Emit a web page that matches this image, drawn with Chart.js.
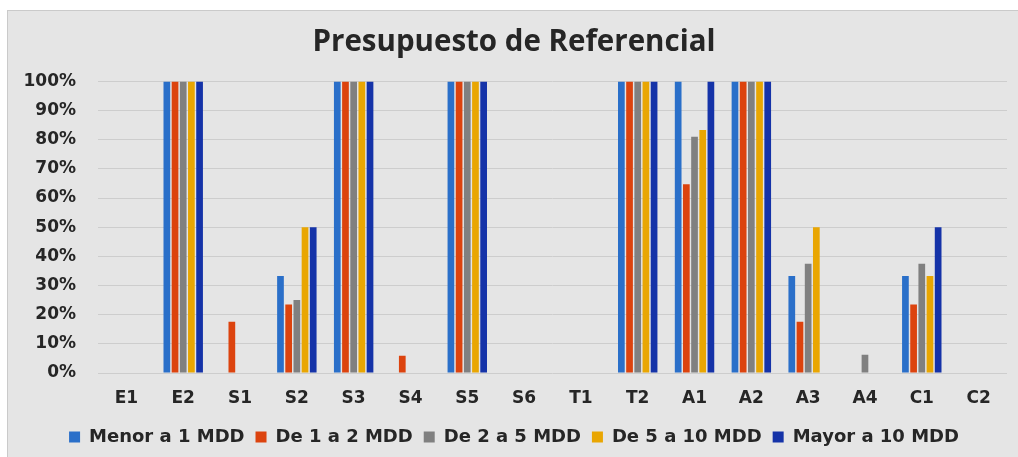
<!DOCTYPE html>
<html>
<head>
<meta charset="utf-8">
<script src="https://cdn.jsdelivr.net/npm/chart.js@4.4.0/dist/chart.umd.min.js"></script>
<style>
  html, body { margin: 0; padding: 0; background: #fff; overflow: hidden; }
  #frame {
    position: absolute; left: 7px; top: 10px; width: 1020px; height: 456px;
    background: #e5e5e5; border: 1px solid #cacaca; box-sizing: border-box;
  }
  #wrap { position: absolute; left: 0; top: 0; width: 1010px; height: 446px; }
</style>
</head>
<body>
<div id="frame"><div id="wrap"><canvas id="chart"></canvas></div></div>
<script>
// ---- Data ----
const categories = ['E1', 'E2', 'S1', 'S2', 'S3', 'S4', 'S5', 'S6', 'T1', 'T2', 'A1', 'A2', 'A3', 'A4', 'C1', 'C2'];
const seriesNames = ['Menor a 1 MDD', 'De 1 a 2 MDD', 'De 2 a 5 MDD', 'De 5 a 10 MDD', 'Mayor a 10 MDD'];

const menorA1 = [0, 100, 0, 33.3, 100, 0, 100, 0, 0, 100, 100, 100, 33.3, 0, 33.3, 0];
const de1a2   = [0, 100, 17.6, 23.5, 100, 5.9, 100, 0, 0, 100, 64.7, 100, 17.6, 0, 23.5, 0];
const de2a5   = [0, 100, 0, 25, 100, 0, 100, 0, 0, 100, 81, 100, 37.5, 6.25, 37.5, 0];
const de5a10  = [0, 100, 0, 50, 100, 0, 100, 0, 0, 100, 83.3, 100, 50, 0, 33.3, 0];
const mayorA10 = [0, 100, 0, 50, 100, 0, 100, 0, 0, 100, 100, 100, 0, 0, 50, 0];

const yTicks = [0, 10, 20, 30, 40, 50, 60, 70, 80, 90, 100];

const colors = ['#2a6fc9', '#dc430e', '#808080', '#e9a602', '#1533a8'];
const values = [menorA1, de1a2, de2a5, de5a10, mayorA10];

const TEXT = '#262626';
const tickFont = { family: 'DejaVu Sans', size: 17, weight: 'bold' };
const legendFont = { family: 'DejaVu Sans', size: 18, weight: 'bold' };

// ---- Chart ----
const ctx = document.getElementById('chart').getContext('2d');

new Chart(ctx, {
  type: 'bar',
  data: {
    labels: categories,
    datasets: seriesNames.map((name, i) => ({
      label: name,
      data: values[i],
      backgroundColor: colors[i],
      borderWidth: 0,
      categoryPercentage: 0.72,
      barPercentage: 0.82
    }))
  },
  options: {
    responsive: true,
    maintainAspectRatio: false,
    animation: false,
    // left padding nudges the title and legend centre to the right
    layout: { padding: { left: 13, right: 11, top: 0, bottom: 1 } },
    plugins: {
      title: {
        display: true,
        text: 'Presupuesto de Referencial',
        color: TEXT,
        font: { family: 'Open Sans', size: 29.5, weight: 'bold' },
        padding: { top: 14, bottom: 21 }
      },
      legend: {
        position: 'bottom',
        labels: {
          color: TEXT,
          font: legendFont,
          boxWidth: 11,
          boxHeight: 11,
          padding: 11
        }
      },
      tooltip: { enabled: false }
    },
    scales: {
      x: {
        grid: { display: false },
        border: { display: false },
        ticks: { color: TEXT, font: tickFont, padding: 7, maxRotation: 0 },
        afterFit: (scale) => { scale.height = 44; }
      },
      y: {
        min: 0,
        max: 100,
        grid: { color: '#cdcdcd', lineWidth: 1, drawTicks: false },
        border: { display: false },
        afterBuildTicks: (scale) => { scale.ticks = yTicks.map(v => ({ value: v })); },
        ticks: {
          color: TEXT,
          font: tickFont,
          padding: 22,
          callback: (v) => v + '%'
        },
        afterFit: (scale) => { scale.width = 77; }
      }
    }
  }
});
</script>
</body>
</html>
